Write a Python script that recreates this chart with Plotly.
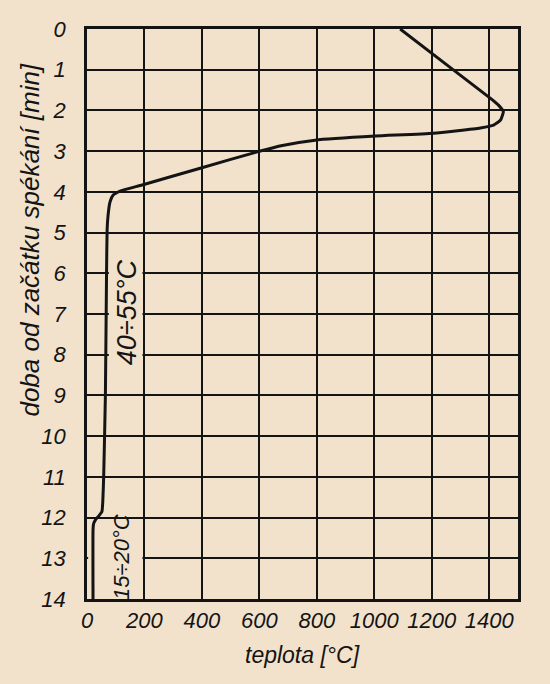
import plotly.graph_objects as go

# průběh teploty v loži při spékání
teplota = [1090, 1250, 1411, 1432, 1449, 1439, 1415, 1369, 1205, 1003, 794,
           680, 596, 394, 192, 115, 91, 80, 73, 70, 68, 64, 58, 55, 52,
           40, 30, 23, 21, 21]
doba = [0.0, 0.87, 1.74, 1.87, 2.03, 2.24, 2.36, 2.43, 2.56, 2.63, 2.73,
        2.86, 3.01, 3.42, 3.83, 3.98, 4.08, 4.25, 4.6, 4.94, 6.0, 9.0,
        11.0, 11.6, 11.85, 11.97, 12.05, 12.15, 12.3, 14.0]

x_ticks = [0, 200, 400, 600, 800, 1000, 1200, 1400]
y_ticks = list(range(0, 15))

pozadi = "#F2E2CC"
cerna = "#141414"

fig = go.Figure()
fig.add_trace(go.Scatter(
    x=teplota, y=doba, mode="lines",
    line=dict(color=cerna, width=3, shape="spline", smoothing=0.4),
    showlegend=False, hoverinfo="skip",
))

# místa pod popisky, kde v předloze chybí mřížka
fig.add_shape(type="rect", layer="between", x0=76, x1=193, y0=5.55, y1=8.45,
              fillcolor=pozadi, line_width=0)
fig.add_shape(type="rect", layer="between", x0=4, x1=193, y0=12.08, y1=13.92,
              fillcolor=pozadi, line_width=0)

fig.add_annotation(text="40÷55°C", x=140, y=6.95, xref="x", yref="y",
                   textangle=-90, showarrow=False, font=dict(size=27),
                   xanchor="center", yanchor="middle")
fig.add_annotation(text="15÷20°C", x=118, y=12.97, xref="x", yref="y",
                   textangle=-90, showarrow=False, font=dict(size=22),
                   xanchor="center", yanchor="middle")
fig.add_annotation(text="doba od začátku spékání [min]", x=-0.133, y=5.18,
                   xref="paper", yref="y", textangle=-90, showarrow=False,
                   font=dict(size=26), xanchor="center", yanchor="middle")
fig.add_annotation(text="teplota [°C]", x=0.5, y=-0.098, xref="paper",
                   yref="paper", showarrow=False, font=dict(size=23),
                   xanchor="center", yanchor="middle")

osa = dict(showgrid=True, gridcolor=cerna, gridwidth=2.2, zeroline=False,
           showline=True, linecolor=cerna, linewidth=2.5, mirror=True,
           ticks="", tickfont=dict(size=22))

fig.update_xaxes(range=[0, 1500], tickvals=x_ticks, ticklabelstandoff=0, **osa)
fig.update_yaxes(range=[14, 0], tickvals=y_ticks, ticklabelstandoff=14, **osa)

fig.update_layout(
    width=550, height=684,
    margin=dict(l=87, r=32, t=29, b=85),
    paper_bgcolor=pozadi, plot_bgcolor=pozadi,
    font=dict(family="Liberation Sans", style="italic", color=cerna),
)

fig.write_html("out.html", config={"displayModeBar": False},
               post_script="document.body.style.margin='0px';")
